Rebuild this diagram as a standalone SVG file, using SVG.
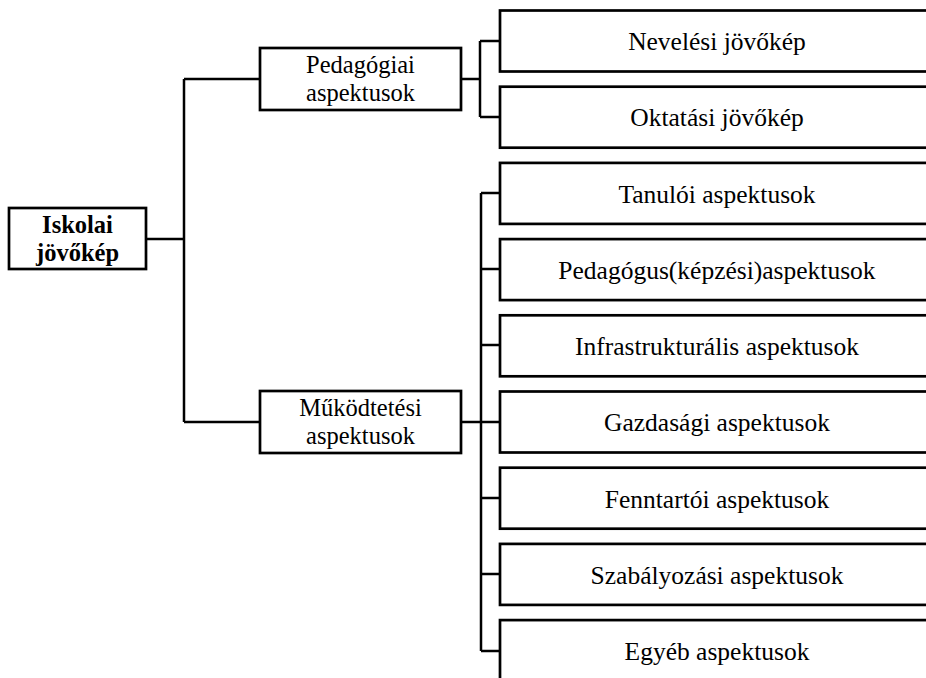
<svg xmlns="http://www.w3.org/2000/svg" width="926" height="678" viewBox="0 0 926 678">
<style>
.box{fill:#fff;stroke:#000;stroke-width:2.7}
.ln{fill:none;stroke:#000;stroke-width:2.5}
text{font-family:'Liberation Serif','Times New Roman','DejaVu Serif',serif;font-size:25.5px;fill:#000;text-anchor:middle}
.two{font-size:24.5px}
.b{font-weight:bold}
</style>
<rect width="926" height="678" fill="#fff"/>
<g id="connectors">
<path class="ln" d="M146,239 H184 M184,79 V422 M184,79 H260 M184,422 H260"/>
<path class="ln" d="M461,79 H480 M480,41 V117 M480,41 H500 M480,117 H500"/>
<path class="ln" d="M461,422 H481 M481,193 V651 M481,193 H500 M481,269 H500 M481,345 H500 M481,422 H500 M481,498 H500 M481,574 H500 M481,651 H500"/>
</g>
<g id="n-iskolai"><rect class="box" x="9" y="208" width="137" height="61"/><text class="b two" x="77.5" y="233">Iskolai</text><text class="b two" x="77.5" y="260.5">jövőkép</text></g>
<g id="n-pedagogiai"><rect class="box" x="260" y="48" width="201" height="62"/><text class="two" x="360.5" y="73">Pedagógiai</text><text class="two" x="360.5" y="100.5">aspektusok</text></g>
<g id="n-mukodtetesi"><rect class="box" x="260" y="391" width="201" height="62"/><text class="two" x="360.5" y="416">Működtetési</text><text class="two" x="360.5" y="443.5">aspektusok</text></g>
<g id="n-neveles"><rect class="box" x="500" y="10.5" width="434" height="61"/><text x="717" y="50">Nevelési jövőkép</text></g>
<g id="n-oktatas"><rect class="box" x="500" y="86.7" width="434" height="61"/><text x="717" y="126">Oktatási jövőkép</text></g>
<g id="n-tanuloi"><rect class="box" x="500" y="162.9" width="434" height="61"/><text x="717" y="203">Tanulói aspektusok</text></g>
<g id="n-pedagogus"><rect class="box" x="500" y="239.1" width="434" height="61"/><text x="717" y="279">Pedagógus(képzési)aspektusok</text></g>
<g id="n-infra"><rect class="box" x="500" y="315.3" width="434" height="61"/><text x="717" y="355">Infrastrukturális aspektusok</text></g>
<g id="n-gazdasagi"><rect class="box" x="500" y="391.5" width="434" height="61"/><text x="717" y="431">Gazdasági aspektusok</text></g>
<g id="n-fenntartoi"><rect class="box" x="500" y="467.7" width="434" height="61"/><text x="717" y="508">Fenntartói aspektusok</text></g>
<g id="n-szabalyozasi"><rect class="box" x="500" y="543.9" width="434" height="61"/><text x="717" y="584">Szabályozási aspektusok</text></g>
<g id="n-egyeb"><rect class="box" x="500" y="620.1" width="434" height="61"/><text x="717" y="660">Egyéb aspektusok</text></g>
</svg>
